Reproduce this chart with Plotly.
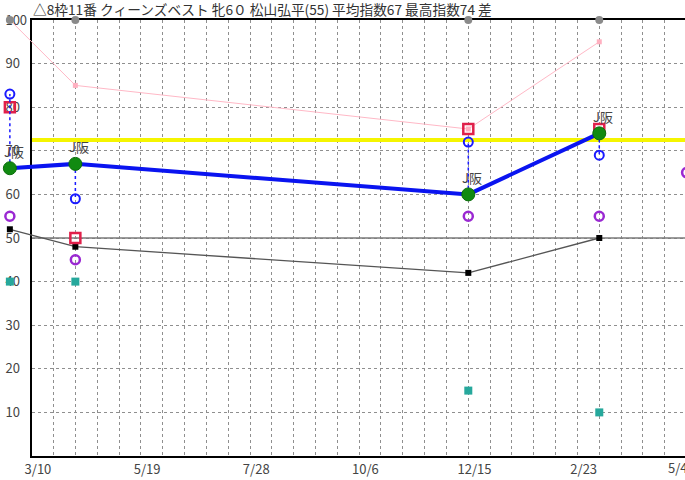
import plotly.graph_objects as go
from datetime import datetime, timedelta

# ---------------- data ----------------
RACE_DATES = ["2022-02-20", "2022-04-03", "2022-12-11", "2023-03-05"]
COURSE = ["J阪", "J阪", "J阪", "J阪"]
INDEX = [66, 67, 60, 74]          # green dots / thick blue line
BLUE_RING = [83, 59, 72, 69]      # dotted blue circles
RED_SQ = [80, 50, 75, 75]         # open red squares
PINK = [100, 85, 75, 95]          # thin pink line
BLACK = [52, 48, 42, 50]          # black squares, gray line
TEAL = [40, 40, 15, 10]           # teal squares
PURPLE_DATES = ["2022-02-20", "2022-04-03", "2022-12-11", "2023-03-05", "2023-04-30"]
PURPLE = [55, 45, 55, 55, 65]     # open purple circles
TOP_MARK = [100, 100, 100, 100]   # gray dots on top frame
REF_LEVEL = 72.5                  # yellow line
BASE_LEVEL = 50                   # gray line

TICK_DATES = ["2022-03-10", "2022-05-19", "2022-07-28", "2022-10-06", "2022-12-15", "2023-02-23"]
TICK_LABELS = ["3/10", "5/19", "7/28", "10/6", "12/15", "2/23"]
LAST_LABEL = "5/4"
Y_TICKS = [10, 20, 30, 40, 50, 60, 70, 80, 90, 100]

TITLE = "△8枠11番 クィーンズベスト 牝6０ 松山弘平(55) 平均指数67 最高指数74 差"

# ---------------- geometry ----------------
# the chart is wider than the 685px window and is cropped at the right, like the original
W, H = 700, 480
AXIS_PX = 31.7
PX_PER_DAY = 21.83 / 14
X_START = datetime(2022, 3, 6)
X_END = X_START + timedelta(days=(W - AXIS_PX) / PX_PER_DAY)
X2_START = X_START - timedelta(days=AXIS_PX / PX_PER_DAY)
FONT = "Noto Sans CJK JP"
LABEL_COLOR = "#444444"

fig = go.Figure()

# reference levels on the main subplot
fig.add_trace(go.Scatter(x=[X_START, X_END], y=[BASE_LEVEL, BASE_LEVEL], mode="lines",
                         line=dict(color="#7a7a7a", width=1.5), showlegend=False,
                         hoverinfo="skip", xaxis="x", yaxis="y"))
fig.add_trace(go.Scatter(x=[X_START, X_END], y=[REF_LEVEL, REF_LEVEL], mode="lines",
                         line=dict(color="#f5f500", width=4), showlegend=False,
                         hoverinfo="skip", xaxis="x", yaxis="y"))

def add(trace):
    trace.update(xaxis="x2", yaxis="y2", cliponaxis=False, showlegend=False, hoverinfo="skip")
    fig.add_trace(trace)

# black squares with gray line
add(go.Scatter(x=RACE_DATES, y=BLACK, mode="lines+markers",
               line=dict(color="#555555", width=1.3),
               marker=dict(symbol="square", size=6, color="black")))
# teal squares
add(go.Scatter(x=RACE_DATES, y=TEAL, mode="markers",
               marker=dict(symbol="square", size=8, color="#26a89c")))
# purple circles
add(go.Scatter(x=PURPLE_DATES, y=PURPLE, mode="markers",
               marker=dict(symbol="circle-open", size=9, color="#9a28d2",
                           line=dict(width=2.5, color="#9a28d2"))))
# pink line
add(go.Scatter(x=RACE_DATES, y=PINK, mode="lines+markers",
               line=dict(color="#ffb8c6", width=1),
               marker=dict(symbol="square", size=5, color="#ffb0c0")))
# gray dots on the top frame
add(go.Scatter(x=RACE_DATES, y=TOP_MARK, mode="markers",
               marker=dict(symbol="circle", size=8, color="#8a8a8a")))
# red open squares
add(go.Scatter(x=RACE_DATES, y=RED_SQ, mode="markers",
               marker=dict(symbol="square-open", size=10, color="#e0204a",
                           line=dict(width=2.5, color="#e0204a"))))
# blue dotted connectors
cx, cy = [], []
for d, g, b in zip(RACE_DATES, INDEX, BLUE_RING):
    cx += [d, d, None]
    cy += [g, b, None]
add(go.Scatter(x=cx, y=cy, mode="lines",
               line=dict(color="#1a1aff", width=1.5, dash="dot")))
# blue rings
add(go.Scatter(x=RACE_DATES, y=BLUE_RING, mode="markers",
               marker=dict(symbol="circle-open", size=9, color="#1a1aff",
                           line=dict(width=2, color="#1a1aff"))))
# thick blue index line with green dots
add(go.Scatter(x=RACE_DATES, y=INDEX, mode="lines",
               line=dict(color="#0a14f0", width=4)))
add(go.Scatter(x=RACE_DATES, y=INDEX, mode="markers",
               marker=dict(symbol="circle", size=13, color="#118a11",
                           line=dict(width=1, color="#0b6e0b"))))

annotations = []
for d, v, c in zip(RACE_DATES, INDEX, COURSE):
    annotations.append(dict(x=d, y=v, xref="x2", yref="y2", text=c, showarrow=False,
                            xshift=4, yshift=17, font=dict(family=FONT, size=13, color=LABEL_COLOR)))
annotations.append(dict(x=666 / W, y=-11.5 / 436, xref="paper", yref="paper", text=LAST_LABEL,
                        xanchor="left", yanchor="middle", showarrow=False,
                        font=dict(family=FONT, size=13, color=LABEL_COLOR)))

PAD = "<span style='color:rgba(0,0,0,0)'>0</span>"
ytext = [f"{v}" if v >= 100 else f"{v}{PAD}" for v in Y_TICKS]

fig.update_layout(
    width=W, height=H, autosize=False,
    margin=dict(l=0, r=0, t=20, b=24, pad=0, autoexpand=False),
    paper_bgcolor="white", plot_bgcolor="rgba(0,0,0,0)",
    font=dict(family=FONT, size=13, color=LABEL_COLOR),
    title=dict(text=TITLE, x=33 / W, xanchor="left", xref="container",
               y=1 - 10 / H, yanchor="middle", yref="container",
               font=dict(family=FONT, size=13.7, color="#333333")),
    xaxis=dict(domain=[AXIS_PX / W, 1], range=[X_START, X_END], type="date", anchor="y",
               tickvals=TICK_DATES, ticktext=TICK_LABELS, showgrid=False, ticks="",
               minor=dict(dtick=14 * 86400000, tick0=X_START.strftime("%Y-%m-%d"),
                          showgrid=True, gridcolor="#8f8f8f", griddash="dot", gridwidth=1, ticks=""),
               showline=True, linecolor="black", linewidth=2, mirror=True, zeroline=False,
               automargin=False,
               tickfont=dict(family=FONT, size=13, color=LABEL_COLOR), fixedrange=True),
    yaxis=dict(domain=[0, 1], range=[0, 100], anchor="x",
               tickvals=Y_TICKS, ticktext=ytext, ticks="",
               showgrid=True, gridcolor="#8f8f8f", griddash="dot", gridwidth=1,
               showline=True, linecolor="black", linewidth=2, zeroline=False,
               automargin=False,
               tickfont=dict(family=FONT, size=13, color=LABEL_COLOR), fixedrange=True),
    xaxis2=dict(domain=[0, 1], range=[X2_START, X_END], type="date", anchor="y2",
                showgrid=False, showline=False, showticklabels=False, zeroline=False, ticks="",
                automargin=False, fixedrange=True),
    yaxis2=dict(domain=[0, 1], range=[0, 100], anchor="x2",
                showgrid=False, showline=False, showticklabels=False, zeroline=False, ticks="",
                automargin=False, fixedrange=True),
    annotations=annotations,
)

fig.write_html("out.html", config={"displayModeBar": False, "staticPlot": True},
               post_script="document.body.style.margin='0px';")
